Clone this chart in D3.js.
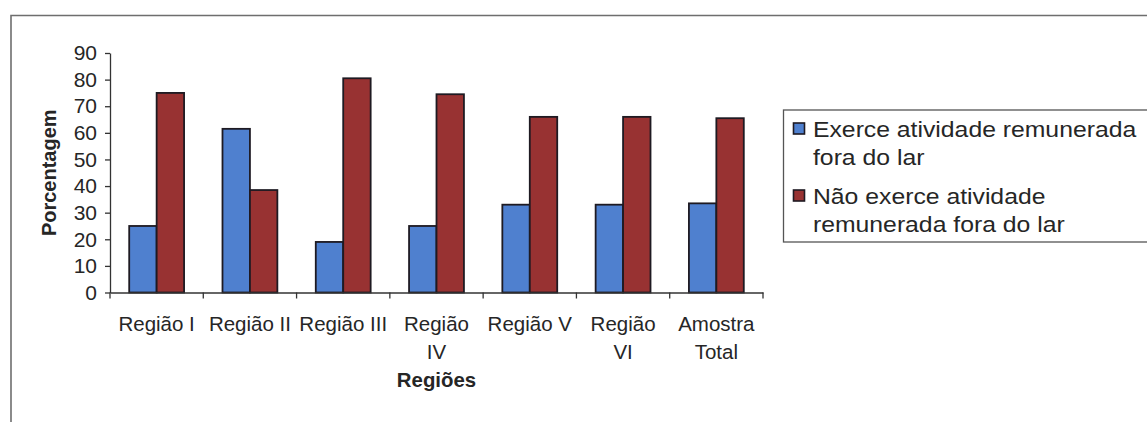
<!DOCTYPE html>
<html>
<head>
<meta charset="utf-8">
<script src="https://cdn.jsdelivr.net/npm/d3@7"></script>
<style>
  html, body { margin: 0; padding: 0; background: #fff; }
  svg { display: block; }
  text { font-family: "Liberation Sans", Arial, sans-serif; fill: #262626; }
</style>
</head>
<body>
<svg id="chart" width="1147" height="422"></svg>
<script>
// Regions (line breaks mark where the axis labels wrap)
const categories = ["Região I", "Região II", "Região III", "Região\nIV", "Região V", "Região\nVI", "Amostra\nTotal"];
const seriesNames = ["Exerce atividade remunerada\nfora do lar", "Não exerce atividade\nremunerada fora do lar"];
const exerce = [25, 61.5, 19, 25, 33, 33, 33.5];
const naoExerce = [75, 38.5, 80.5, 74.5, 66, 66, 65.5];
const yTicks = [0, 10, 20, 30, 40, 50, 60, 70, 80, 90];
const colors = ["#4f80cf", "#983232"];

const svg = d3.select("#chart");

// frame of the chart area
svg.append("path")
  .attr("d", "M11,422 L11,15.5 L1147,15.5")
  .attr("fill", "none").attr("stroke", "#6e6e6e").attr("stroke-width", 1.6);

const x0 = d3.scaleBand().domain(categories).range([110, 763]).padding(0);
const x1 = d3.scaleBand().domain([0, 1]).range([0, x0.bandwidth()]).paddingInner(0).paddingOuter(0.7);
const y = d3.scaleLinear().domain([0, 90]).range([292.5, 53]);

const rows = categories.map((c, i) => ({ cat: c, values: [exerce[i], naoExerce[i]] }));

// bars
const groups = svg.append("g").selectAll("g").data(rows).join("g")
  .attr("transform", d => `translate(${x0(d.cat)},0)`);
groups.selectAll("rect").data(d => d.values.map((v, k) => ({ v, k }))).join("rect")
  .attr("x", d => x1(d.k))
  .attr("y", d => y(d.v))
  .attr("width", x1.bandwidth())
  .attr("height", d => y(0) - y(d.v))
  .attr("fill", d => colors[d.k])
  .attr("stroke", "#1e1a22").attr("stroke-width", 1.8);

// y axis
const yAxis = svg.append("g").attr("transform", "translate(110,0)")
  .call(d3.axisLeft(y).tickValues(yTicks).tickSizeInner(5).tickSizeOuter(0).tickPadding(8));
yAxis.select(".domain").attr("stroke", "#333").attr("stroke-width", 1.3);
yAxis.selectAll(".tick line").attr("stroke", "#333").attr("stroke-width", 1.3);
yAxis.selectAll(".tick text").attr("font-size", 21).attr("fill", "#262626")
  .style("font-family", "'Liberation Sans', Arial, sans-serif");

// x axis: line with tick marks at the category boundaries
const xAxis = svg.append("g").attr("transform", `translate(0,${y(0)})`)
  .call(d3.axisBottom(x0).tickSize(0).tickPadding(0).tickFormat(""));
xAxis.select(".domain").attr("stroke", "#333").attr("stroke-width", 1.3);
const bounds = d3.range(categories.length + 1).map(i => x0.range()[0] + i * x0.step());
xAxis.selectAll("line.bound").data(bounds).join("line").attr("class", "bound")
  .attr("x1", d => d).attr("x2", d => d).attr("y1", 0).attr("y2", 6)
  .attr("stroke", "#333").attr("stroke-width", 1.3);

// category labels
const labels = svg.append("g").selectAll("text").data(categories).join("text")
  .attr("x", d => x0(d) + x0.bandwidth() / 2)
  .attr("y", 331)
  .attr("text-anchor", "middle")
  .attr("font-size", 20.5);
labels.selectAll("tspan").data(d => d.split("\n")).join("tspan")
  .attr("x", function () { return this.parentNode.getAttribute("x"); })
  .attr("dy", (d, i) => i === 0 ? 0 : 28)
  .text(d => d);

// axis titles
svg.append("text")
  .attr("x", (x0.range()[0] + x0.range()[1]) / 2).attr("y", 387)
  .attr("text-anchor", "middle").attr("font-size", 20.4).attr("font-weight", "bold")
  .text("Regiões");
svg.append("text")
  .attr("transform", `translate(55.5,${(y(0) + y(90)) / 2}) rotate(-90)`)
  .attr("text-anchor", "middle").attr("font-size", 20).attr("font-weight", "bold")
  .text("Porcentagem");

// legend
const legend = svg.append("g");
legend.append("rect")
  .attr("x", 783.5).attr("y", 110).attr("width", 420).attr("height", 132)
  .attr("fill", "#fff").attr("stroke", "#555").attr("stroke-width", 1.3);
const entryY = [137, 204];
seriesNames.forEach((name, k) => {
  legend.append("rect")
    .attr("x", 793.5).attr("y", entryY[k] - 14).attr("width", 11).attr("height", 11)
    .attr("fill", colors[k]).attr("stroke", "#1e1a22").attr("stroke-width", 1.6);
  const t = legend.append("g").attr("transform", `translate(813,${entryY[k]}) scale(1.1,1)`)
    .append("text").attr("font-size", 22.5).attr("fill", "#333");
  t.selectAll("tspan").data(name.split("\n")).join("tspan")
    .attr("x", 0).attr("dy", (d, i) => i === 0 ? 0 : 28).text(d => d);
});
</script>
</body>
</html>
